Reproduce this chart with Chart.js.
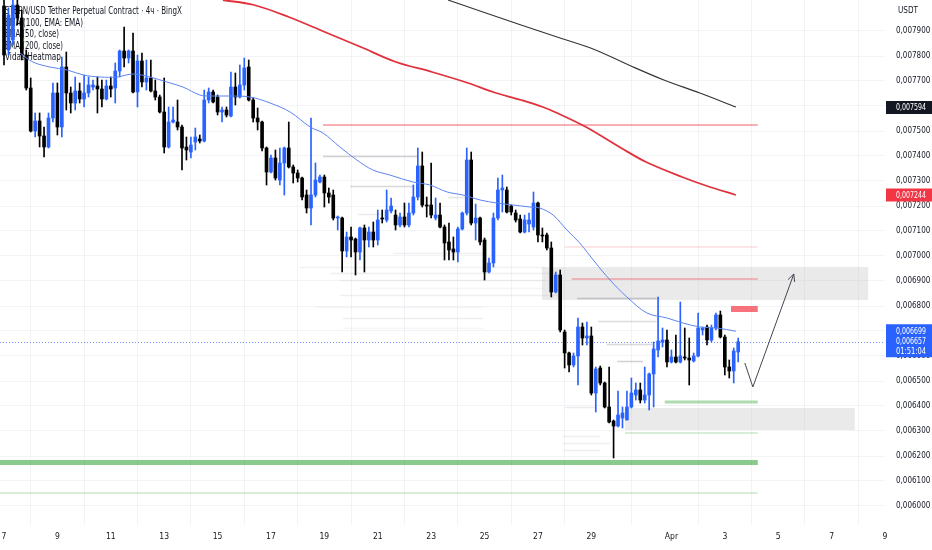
<!DOCTYPE html>
<html><head><meta charset="utf-8">
<script src="https://cdn.jsdelivr.net/npm/chart.js@4.4.1/dist/chart.umd.min.js"></script>
<style>html,body{margin:0;padding:0;background:#fff;overflow:hidden}canvas{display:block}</style>
</head><body>
<canvas id="c" width="932" height="550"></canvas>
<script>
// ---- candles (4h), index 0 = Mar 7 ----
const opens = [
0.008000,0.007824,0.007864,0.008004,0.007952,0.007804,0.007672,0.007500,0.007540,0.007480,
0.007436,0.007552,0.007652,0.007516,0.007756,0.007652,0.007612,0.007660,0.007628,0.007652,
0.007676,0.007680,0.007668,0.007628,0.007680,0.007672,0.007740,0.007820,0.007792,0.007820,
0.007656,0.007780,0.007696,0.007712,0.007660,0.007636,0.007576,0.007436,0.007536,0.007536,
0.007516,0.007436,0.007416,0.007456,0.007468,0.007460,0.007624,0.007656,0.007636,0.007576,
0.007584,0.007560,0.007676,0.007636,0.007684,0.007756,0.007624,0.007552,0.007536,0.007432,
0.007336,0.007392,0.007304,0.007372,0.007432,0.007356,0.007332,0.007312,0.007244,0.007192,
0.007244,0.007296,0.007316,0.007252,0.007244,0.007152,0.007152,0.007020,0.007076,0.007068,
0.007016,0.007112,0.007064,0.007096,0.007064,0.007152,0.007144,0.007180,0.007164,0.007124,
0.007156,0.007124,0.007172,0.007236,0.007360,0.007204,0.007204,0.007152,0.007164,0.007116,
0.007056,0.007028,0.007016,0.007108,0.007172,0.007384,0.007132,0.007152,0.007064,0.006936,
0.006972,0.007152,0.007264,0.007264,0.007200,0.007172,0.007148,0.007096,0.007128,0.007116,
0.007212,0.007084,0.007084,0.007032,0.006856,0.006924,0.006696,0.006612,0.006564,0.006600,
0.006716,0.006672,0.006680,0.006452,0.006552,0.006492,0.006396,0.006340,0.006320,0.006352,
0.006344,0.006396,0.006444,0.006464,0.006424,0.006444,0.006528,0.006624,0.006656,0.006664,
0.006576,0.006596,0.006576,0.006596,0.006592,0.006580,0.006600,0.006704,0.006716,0.006664,
0.006712,0.006764,0.006676,0.006556,0.006540,0.006616];
const highs = [
0.008024,0.007992,0.008024,0.008030,0.007984,0.007824,0.007712,0.007572,0.007572,0.007516,
0.007572,0.007692,0.007692,0.007796,0.007816,0.007676,0.007716,0.007692,0.007724,0.007716,
0.007704,0.007716,0.007704,0.007704,0.007716,0.007772,0.007824,0.007916,0.007824,0.007892,
0.007804,0.007812,0.007784,0.007784,0.007704,0.007644,0.007712,0.007596,0.007596,0.007624,
0.007524,0.007476,0.007476,0.007512,0.007484,0.007664,0.007672,0.007664,0.007644,0.007596,
0.007596,0.007736,0.007732,0.007764,0.007792,0.007784,0.007632,0.007592,0.007540,0.007436,
0.007404,0.007424,0.007432,0.007436,0.007536,0.007364,0.007344,0.007316,0.007264,0.007552,
0.007372,0.007324,0.007324,0.007272,0.007264,0.007160,0.007156,0.007096,0.007116,0.007072,
0.007116,0.007124,0.007116,0.007136,0.007184,0.007184,0.007264,0.007232,0.007184,0.007172,
0.007212,0.007212,0.007284,0.007432,0.007416,0.007236,0.007372,0.007232,0.007212,0.007124,
0.007132,0.007076,0.007116,0.007176,0.007432,0.007416,0.007208,0.007156,0.007072,0.006992,
0.007172,0.007312,0.007324,0.007276,0.007204,0.007184,0.007164,0.007164,0.007172,0.007256,
0.007216,0.007112,0.007092,0.007056,0.006936,0.006944,0.006704,0.006616,0.006612,0.006752,
0.006732,0.006736,0.006716,0.006556,0.006560,0.006496,0.006556,0.006344,0.006460,0.006396,
0.006460,0.006512,0.006492,0.006492,0.006556,0.006532,0.006656,0.006836,0.006712,0.006704,
0.006624,0.006684,0.006816,0.006712,0.006672,0.006612,0.006772,0.006716,0.006724,0.006724,
0.006772,0.006780,0.006684,0.006584,0.006632,0.006672];
const lows = [
0.007764,0.007804,0.007844,0.007924,0.007784,0.007664,0.007496,0.007476,0.007436,0.007396,
0.007432,0.007536,0.007484,0.007476,0.007584,0.007572,0.007584,0.007612,0.007596,0.007636,
0.007664,0.007572,0.007596,0.007624,0.007636,0.007612,0.007716,0.007756,0.007772,0.007652,
0.007596,0.007676,0.007664,0.007656,0.007624,0.007572,0.007412,0.007432,0.007532,0.007504,
0.007344,0.007384,0.007392,0.007424,0.007452,0.007456,0.007612,0.007612,0.007564,0.007536,
0.007556,0.007556,0.007604,0.007632,0.007664,0.007620,0.007536,0.007504,0.007420,0.007284,
0.007332,0.007304,0.007284,0.007244,0.007352,0.007292,0.007296,0.007224,0.007172,0.007124,
0.007236,0.007292,0.007196,0.007212,0.007144,0.007104,0.006936,0.006996,0.006996,0.006924,
0.006984,0.006936,0.007036,0.007036,0.007044,0.007132,0.007136,0.007172,0.007104,0.007116,
0.007116,0.007116,0.007164,0.007224,0.007196,0.007156,0.007152,0.007144,0.007112,0.006984,
0.006984,0.006984,0.006976,0.007104,0.007164,0.007124,0.007064,0.007044,0.006904,0.006932,
0.006956,0.007144,0.007176,0.007172,0.007164,0.007136,0.007092,0.007092,0.007096,0.007104,
0.007056,0.007056,0.007024,0.006836,0.006852,0.006696,0.006552,0.006536,0.006556,0.006484,
0.006644,0.006644,0.006444,0.006376,0.006484,0.006392,0.006332,0.006192,0.006316,0.006312,
0.006344,0.006392,0.006424,0.006412,0.006412,0.006384,0.006396,0.006596,0.006636,0.006556,
0.006572,0.006572,0.006572,0.006584,0.006484,0.006576,0.006596,0.006684,0.006644,0.006656,
0.006704,0.006672,0.006524,0.006512,0.006492,0.006576];
const closes = [
0.007804,0.007964,0.008004,0.007952,0.007804,0.007672,0.007500,0.007540,0.007480,0.007436,
0.007552,0.007652,0.007516,0.007756,0.007652,0.007612,0.007660,0.007628,0.007652,0.007684,
0.007684,0.007668,0.007628,0.007680,0.007668,0.007740,0.007820,0.007792,0.007820,0.007656,
0.007780,0.007696,0.007712,0.007660,0.007636,0.007576,0.007436,0.007536,0.007544,0.007516,
0.007432,0.007424,0.007444,0.007476,0.007460,0.007624,0.007656,0.007616,0.007576,0.007584,
0.007564,0.007676,0.007636,0.007684,0.007752,0.007624,0.007552,0.007536,0.007432,0.007336,
0.007392,0.007312,0.007372,0.007432,0.007356,0.007332,0.007312,0.007236,0.007192,0.007244,
0.007304,0.007316,0.007252,0.007236,0.007152,0.007156,0.007020,0.007076,0.007064,0.007016,
0.007112,0.007064,0.007096,0.007064,0.007144,0.007148,0.007184,0.007200,0.007124,0.007156,
0.007124,0.007172,0.007236,0.007360,0.007204,0.007200,0.007164,0.007164,0.007116,0.007052,
0.007024,0.007016,0.007108,0.007172,0.007384,0.007132,0.007152,0.007056,0.006936,0.006972,
0.007152,0.007264,0.007272,0.007176,0.007176,0.007144,0.007096,0.007144,0.007144,0.007212,
0.007084,0.007080,0.007032,0.006856,0.006924,0.006704,0.006612,0.006564,0.006600,0.006716,
0.006672,0.006680,0.006452,0.006548,0.006492,0.006396,0.006336,0.006320,0.006364,0.006372,
0.006396,0.006452,0.006464,0.006424,0.006444,0.006528,0.006628,0.006660,0.006664,0.006576,
0.006596,0.006576,0.006600,0.006592,0.006584,0.006600,0.006712,0.006712,0.006664,0.006712,
0.006764,0.006676,0.006556,0.006540,0.006620,0.006657];

// ---- moving averages (candle index, value) ----
const ema50Idx = [3.6,6.5,10.3,14.2,17.8,21.6,25.4,29,32.8,36.6,40.2,44,46.3,50.8,55.3,59.8,64.3,68.8,71.7,75.5,79.3,82.9,86.7,91.9,95.7,99.6,103.1,107,110.8,114.4,118.2,120.4,123.4,126.5,129.4,132.8,136.2,140,144.5,149,152.6,156.4,160.2,164.5];
const ema50Val = [0.007812,0.007776,0.007756,0.007744,0.007724,0.007716,0.007716,0.007728,0.007716,0.007696,0.007676,0.007644,0.007640,0.007640,0.007636,0.007612,0.007576,0.007516,0.007492,0.007436,0.007384,0.007344,0.007324,0.007296,0.007284,0.007256,0.007244,0.007224,0.007212,0.007204,0.007196,0.007192,0.007164,0.007104,0.007052,0.006976,0.006904,0.006836,0.006772,0.006752,0.006732,0.006716,0.006712,0.006699];
const ema100Idx = [49.2,56.2,64,72.1,80.2,88.1,96.2,104.3,109.9,116.2,121.1,124.3,130.8,138.7,144.3,152.4,158,164.5];
const ema100Val = [0.008024,0.008004,0.007956,0.007896,0.007836,0.007776,0.007736,0.007692,0.007656,0.007624,0.007596,0.007572,0.007516,0.007432,0.007376,0.007316,0.007280,0.007244];
const ema200Idx = [99.8,108.3,116.2,124.3,132.4,140.4,148.3,156.4,164.5];
const ema200Val = [0.008024,0.007972,0.007924,0.007876,0.007828,0.007764,0.007704,0.007652,0.007596];

// ---- axes ----
const xTickIdx = [0,12,24,36,48,60,72,84,96,108,120,132,150,162,174,186,198];
const xTickText = ['7','9','11','13','15','17','19','21','23','25','27','29','Apr','3','5','7','9'];
const yTickVals = [0.0060,0.0061,0.0062,0.0063,0.0064,0.0065,0.0066,0.0067,0.0068,0.0069,0.0070,0.0071,0.0072,0.0073,0.0074,0.0075,0.0076,0.0077,0.0078,0.0079];
const lastPrice = 0.006657;
const countdown = '01:51:04';
const axisMarks = [0.007594, 0.007244, 0.006699];

// ---- drawings ----
const levelPrices = [0.007524,0.007036,0.006908,0.006416,0.006292,0.006174,0.006052];
const levelFrom   = [71.7,126,127.6,148.5,139.6,-0.9,-0.9];
const levelTo     = [169.4,169.4,169.4,169.4,169.4,169.4,169.4];
const boxFrom = [120.9,139.6,163.4];
const boxTo   = [194.2,191.2,169.4];
const boxHigh = [0.006956,0.006392,0.006800];
const boxLow  = [0.006824,0.006304,0.006776];
const arrowIdx = [166.5,168.3,177.5];
const arrowVal = [0.006572,0.006476,0.006928];
const heatPrice = [0.007400,0.007280,0.007236,0.007168,0.007012,0.006956,0.006932,0.006904,0.006872,0.006844,0.006832,0.006796,0.006752,0.006740,0.006712,0.006648,0.006580,0.006396,0.006280,0.006252,0.006224];
const heatFrom  = [71.7,77.8,99.8,79.6,87.4,66.5,73.3,75.5,80,75.5,128.8,70.3,76.2,133.5,76.2,135.5,137.8,126.1,125.6,125.6,125.6];
const heatTo    = [93,92.1,103.8,84.5,107.6,121.6,125,121.6,121.6,125,146.7,107.6,107.6,146.7,107.6,145.6,143.6,132.8,133.9,136.2,133.9];
const heatWeight= [0.35,0.3,0.2,0.15,0.12,0.1,0.12,0.1,0.08,0.12,0.45,0.08,0.12,0.25,0.08,0.3,0.35,0.15,0.12,0.12,0.12];

const legendLines = ['STEPN/USD Tether Perpetual Contract · 4ч · BingX','EMA (100, EMA: EMA)','EMA (50, close)','EMA (200, close)','Vidas Heatmap'];

// ---- styles ----
const FONT = "'Liberation Sans Narrow','DejaVu Sans Condensed',Roboto,sans-serif";
const TXT = '#131722';
const UP = '#2962ff', DOWN = '#000000';
const levelStyle = [
  ['rgba(242,54,69,0.4)',2],['rgba(242,54,69,0.25)',1],['rgba(242,54,69,0.4)',1.5],
  ['rgba(76,175,80,0.45)',3],['rgba(76,175,80,0.3)',1.5],['rgba(76,175,80,0.65)',5],['rgba(76,175,80,0.3)',1.5]];
const boxStyle = ['rgba(190,190,190,0.32)','rgba(190,190,190,0.32)','rgba(242,54,69,0.7)'];

const colorOf = i => closes[i] >= opens[i] ? UP : DOWN;
const N = opens.length;
const idx = Array.from({length:N},(_, i)=>i);

const overlay = {
  id:'overlay',
  beforeDatasetsDraw(chart){
    const {ctx, scales:{x,y}} = chart;
    ctx.save();
    ctx.fillStyle = TXT; ctx.textBaseline = 'middle'; ctx.textAlign = 'left';
    const ly = [11,23,34,46,57], lw = [177,78,54,58,56], fs=[10.5,10,10,10,10];
    legendLines.forEach((t,k)=>{ ctx.font = fs[k]+'px '+FONT; ctx.fillText(t,5,ly[k],lw[k]); });
    heatPrice.forEach((p,k)=>{
      const py = Math.round(y.getPixelForValue(p))+0.5;
      ctx.strokeStyle = 'rgba(120,123,134,'+heatWeight[k]+')'; ctx.lineWidth = 1.5;
      ctx.beginPath(); ctx.moveTo(x.getPixelForValue(heatFrom[k]),py); ctx.lineTo(x.getPixelForValue(heatTo[k]),py); ctx.stroke();
    });
    boxFrom.forEach((f,k)=>{
      const x0=x.getPixelForValue(f), x1=x.getPixelForValue(boxTo[k]);
      const y0=y.getPixelForValue(boxHigh[k]), y1=y.getPixelForValue(boxLow[k]);
      ctx.fillStyle = boxStyle[k]; ctx.fillRect(x0,y0,x1-x0,y1-y0);
    });
    levelPrices.forEach((p,k)=>{
      const py = y.getPixelForValue(p);
      ctx.strokeStyle = levelStyle[k][0]; ctx.lineWidth = levelStyle[k][1];
      ctx.beginPath(); ctx.moveTo(x.getPixelForValue(levelFrom[k]),py); ctx.lineTo(x.getPixelForValue(levelTo[k]),py); ctx.stroke();
    });
    const lp = Math.round(y.getPixelForValue(lastPrice))+0.5;
    ctx.strokeStyle = 'rgba(41,98,255,0.7)'; ctx.lineWidth = 1; ctx.setLineDash([1,2]);
    ctx.beginPath(); ctx.moveTo(chart.chartArea.left,lp); ctx.lineTo(chart.chartArea.right,lp); ctx.stroke();
    ctx.restore();
  },
  afterDatasetsDraw(chart){
    const {ctx, scales:{x,y}} = chart;
    ctx.save();
    ctx.strokeStyle = '#434651'; ctx.lineWidth = 1;
    const pts = arrowIdx.map((v,k)=>[x.getPixelForValue(v), y.getPixelForValue(arrowVal[k])]);
    ctx.beginPath(); ctx.moveTo(pts[0][0],pts[0][1]);
    pts.slice(1).forEach(p=>ctx.lineTo(p[0],p[1])); ctx.stroke();
    const a = pts[pts.length-2], b = pts[pts.length-1];
    const ang = Math.atan2(b[1]-a[1], b[0]-a[0]);
    ctx.beginPath();
    ctx.moveTo(b[0]-8*Math.cos(ang-0.45), b[1]-8*Math.sin(ang-0.45));
    ctx.lineTo(b[0],b[1]);
    ctx.lineTo(b[0]-8*Math.cos(ang+0.45), b[1]-8*Math.sin(ang+0.45));
    ctx.stroke();
    ctx.restore();
  },
  afterDraw(chart){
    const {ctx, scales:{y}} = chart;
    const L = chart.chartArea.right + 1, W = chart.width - L;
    ctx.save();
    ctx.font = '9px '+FONT; ctx.textBaseline='middle'; ctx.textAlign='left';
    ctx.fillStyle = TXT; ctx.fillText('USDT', 898, 11, 20);
    const fmt = v => v.toFixed(6).replace('.',',');
    const cols = ['#131722','#f23645'];
    [0,1].forEach(k=>{
      const cy = y.getPixelForValue(axisMarks[k]);
      ctx.fillStyle = cols[k]; ctx.fillRect(L, cy-6.5, W, 13);
      ctx.fillStyle = '#fff'; ctx.fillText(fmt(axisMarks[k]), 896, cy+0.5, 30);
    });
    const cy = y.getPixelForValue(axisMarks[2]);
    ctx.fillStyle = '#2962ff'; ctx.fillRect(L, cy-7, W, 33);
    ctx.fillStyle = '#fff';
    ctx.fillText(fmt(axisMarks[2]), 896, cy+0.5, 30);
    ctx.fillText(fmt(lastPrice), 896, cy+10.5, 30);
    ctx.fillText(countdown, 896, cy+20.5, 30);
    ctx.restore();
  }
};

const lineDs = (label, xs, vs, color, w) => ({
  type:'line', label, data: xs.map((v,k)=>({x:v, y:vs[k]})),
  borderColor: color, borderWidth: w, pointRadius: 0, tension: 0.35, order: 0, fill:false
});

new Chart(document.getElementById('c'), {
  type:'bar',
  data:{ datasets:[
    lineDs('EMA 50', ema50Idx, ema50Val, '#5b84f0', 1),
    lineDs('EMA 100', ema100Idx, ema100Val, '#e0313c', 1.8),
    lineDs('EMA 200', ema200Idx, ema200Val, '#333333', 1.1),
    { label:'body', data: idx.map(i=>({x:i, y:[opens[i], closes[i]]})),
      backgroundColor: idx.map(colorOf), barThickness: 3, minBarLength: 1, grouped:false, order:1, borderWidth:0 },
    { label:'wick', data: idx.map(i=>({x:i, y:[lows[i], highs[i]]})),
      backgroundColor: idx.map(colorOf), barThickness: 1, grouped:false, order:2, borderWidth:0 }
  ]},
  options:{
    responsive:false, animation:false, events:[],
    layout:{ padding:0 },
    plugins:{ legend:{display:false}, tooltip:{enabled:false} },
    scales:{
      x:{ type:'linear', min:-0.9, max:198, offset:false,
        afterBuildTicks: s => { s.ticks = xTickIdx.map(v=>({value:v})); },
        afterFit: s => { s.height = 25; s.paddingLeft = 0; s.paddingRight = 0; },
        ticks:{ autoSkip:false, maxRotation:0, padding:7, color:TXT, font:{family:FONT, size:8.5},
          callback:(v,k)=> xTickText[k] },
        grid:{ color:'#f2f3f7', drawTicks:false }, border:{display:false} },
      y:{ type:'linear', position:'right', min:0.005924, max:0.008024, beginAtZero:false,
        afterBuildTicks: s => { s.ticks = yTickVals.map(v=>({value:v})); },
        afterFit: s => { s.width = 47; s.paddingTop = 0; s.paddingBottom = 0; },
        ticks:{ padding:11, color:TXT, font:{family:FONT, size:8},
          callback: v => v.toFixed(6).replace('.',',') },
        grid:{ color:'#f2f3f7', drawTicks:false }, border:{display:false} }
    }
  },
  plugins:[overlay]
});
</script>
</body></html>
